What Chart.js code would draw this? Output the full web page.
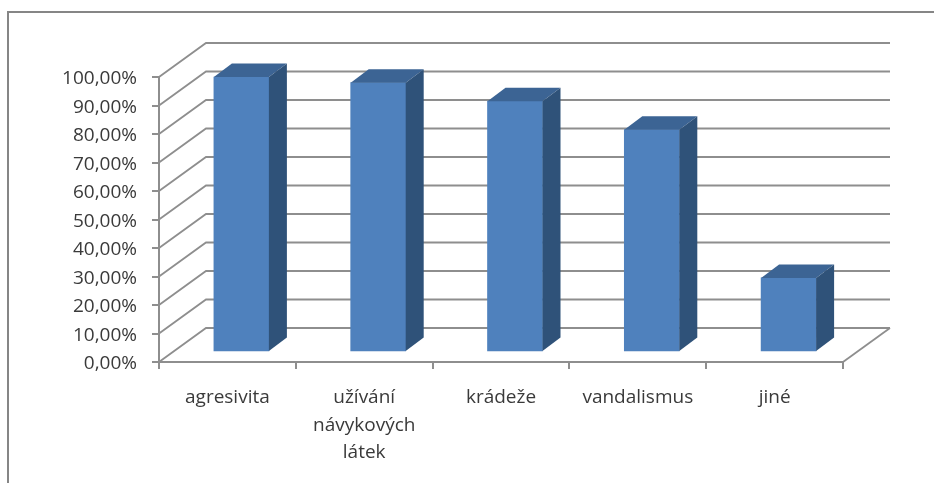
<!DOCTYPE html>
<html><head><meta charset="utf-8">
<script src="https://cdn.jsdelivr.net/npm/chart.js@4"></script>
<style>html,body{margin:0;padding:0;background:#fff}canvas{display:block}</style>
</head><body><div style="width:934px;height:483px"><canvas id="c"></canvas></div>
<script>
const categories = ["agresivita", ["užívání", "návykových", "látek"], "krádeže", "vandalismus", "jiné"];
const values = [96.5, 94.5, 88, 78, 26];
const yMin = 0, yMax = 100, yStep = 10;

const WALL = {dx: 47, dy: -34};
const BAR_SHIFT = {dx: 14, dy: -10};
const FACE = {dx: 18, dy: -13.5};
const LINE = '#8e8e8e';

const frame3d = {
  id: 'frame3d',
  beforeDraw(chart) {
    const c = chart.ctx;
    c.save();
    c.strokeStyle = '#868686'; c.lineWidth = 2;
    c.beginPath(); c.moveTo(8, 483); c.lineTo(8, 12); c.lineTo(934, 12); c.stroke();
    c.restore();
  },
  beforeDatasetsDraw(chart) {
    const c = chart.ctx, y = chart.scales.y, a = chart.chartArea;
    c.save();
    c.strokeStyle = LINE; c.lineWidth = 1.8;
    y.ticks.forEach(t => {
      const p = y.getPixelForValue(t.value);
      c.beginPath();
      c.moveTo(a.left, p);
      c.lineTo(a.left + WALL.dx, p + WALL.dy);
      c.lineTo(a.right + WALL.dx, p + WALL.dy);
      c.stroke();
    });
    const p0 = y.getPixelForValue(yMin);
    c.beginPath();
    c.moveTo(a.right, p0);
    c.lineTo(a.right + WALL.dx, p0 + WALL.dy);
    c.stroke();
    c.restore();
  },
  beforeDatasetDraw(chart) {
    chart.ctx.save();
    chart.ctx.translate(BAR_SHIFT.dx, BAR_SHIFT.dy);
  },
  afterDatasetDraw(chart, args) {
    const c = chart.ctx;
    args.meta.data.forEach(b => {
      const l = b.x - b.width / 2, r = b.x + b.width / 2, t = b.y, u = b.base;
      c.fillStyle = '#3c6494';
      c.beginPath();
      c.moveTo(l, t); c.lineTo(l + FACE.dx, t + FACE.dy);
      c.lineTo(r + FACE.dx, t + FACE.dy); c.lineTo(r, t);
      c.closePath(); c.fill();
      c.fillStyle = '#2f5279';
      c.beginPath();
      c.moveTo(r, t); c.lineTo(r + FACE.dx, t + FACE.dy);
      c.lineTo(r + FACE.dx, u + FACE.dy); c.lineTo(r, u);
      c.closePath(); c.fill();
    });
    c.restore();
  }
};

new Chart(document.getElementById('c'), {
  type: 'bar',
  data: {labels: categories, datasets: [{data: values, backgroundColor: '#4f81bd', barThickness: 55, clip: false}]},
  plugins: [frame3d],
  options: {
    responsive: true, maintainAspectRatio: false, animation: false,
    layout: {padding: {top: 77, right: 91, left: 0, bottom: 0}},
    plugins: {legend: {display: false}, tooltip: {enabled: false}},
    scales: {
      x: {
        afterFit(s) { s.height = 121; },
        grid: {display: true, drawOnChartArea: false, offset: true, tickLength: 7, color: LINE, lineWidth: 2},
        border: {display: true, color: LINE, width: 2},
        ticks: {color: '#3a3a3a', font: {family: '"Open Sans"', size: 19, lineHeight: 1.45}, padding: 15, maxRotation: 0, autoSkip: false}
      },
      y: {
        min: yMin, max: yMax,
        afterFit(s) { s.width = 159; },
        grid: {display: true, drawOnChartArea: false, tickLength: 7, color: LINE, lineWidth: 2},
        border: {display: true, color: LINE, width: 2},
        ticks: {stepSize: yStep, color: '#3a3a3a', font: {family: '"Open Sans"', size: 19}, padding: 15, labelOffset: 2,
          callback: v => v.toFixed(2).replace('.', ',') + '%'}
      }
    }
  }
});
</script></body></html>
